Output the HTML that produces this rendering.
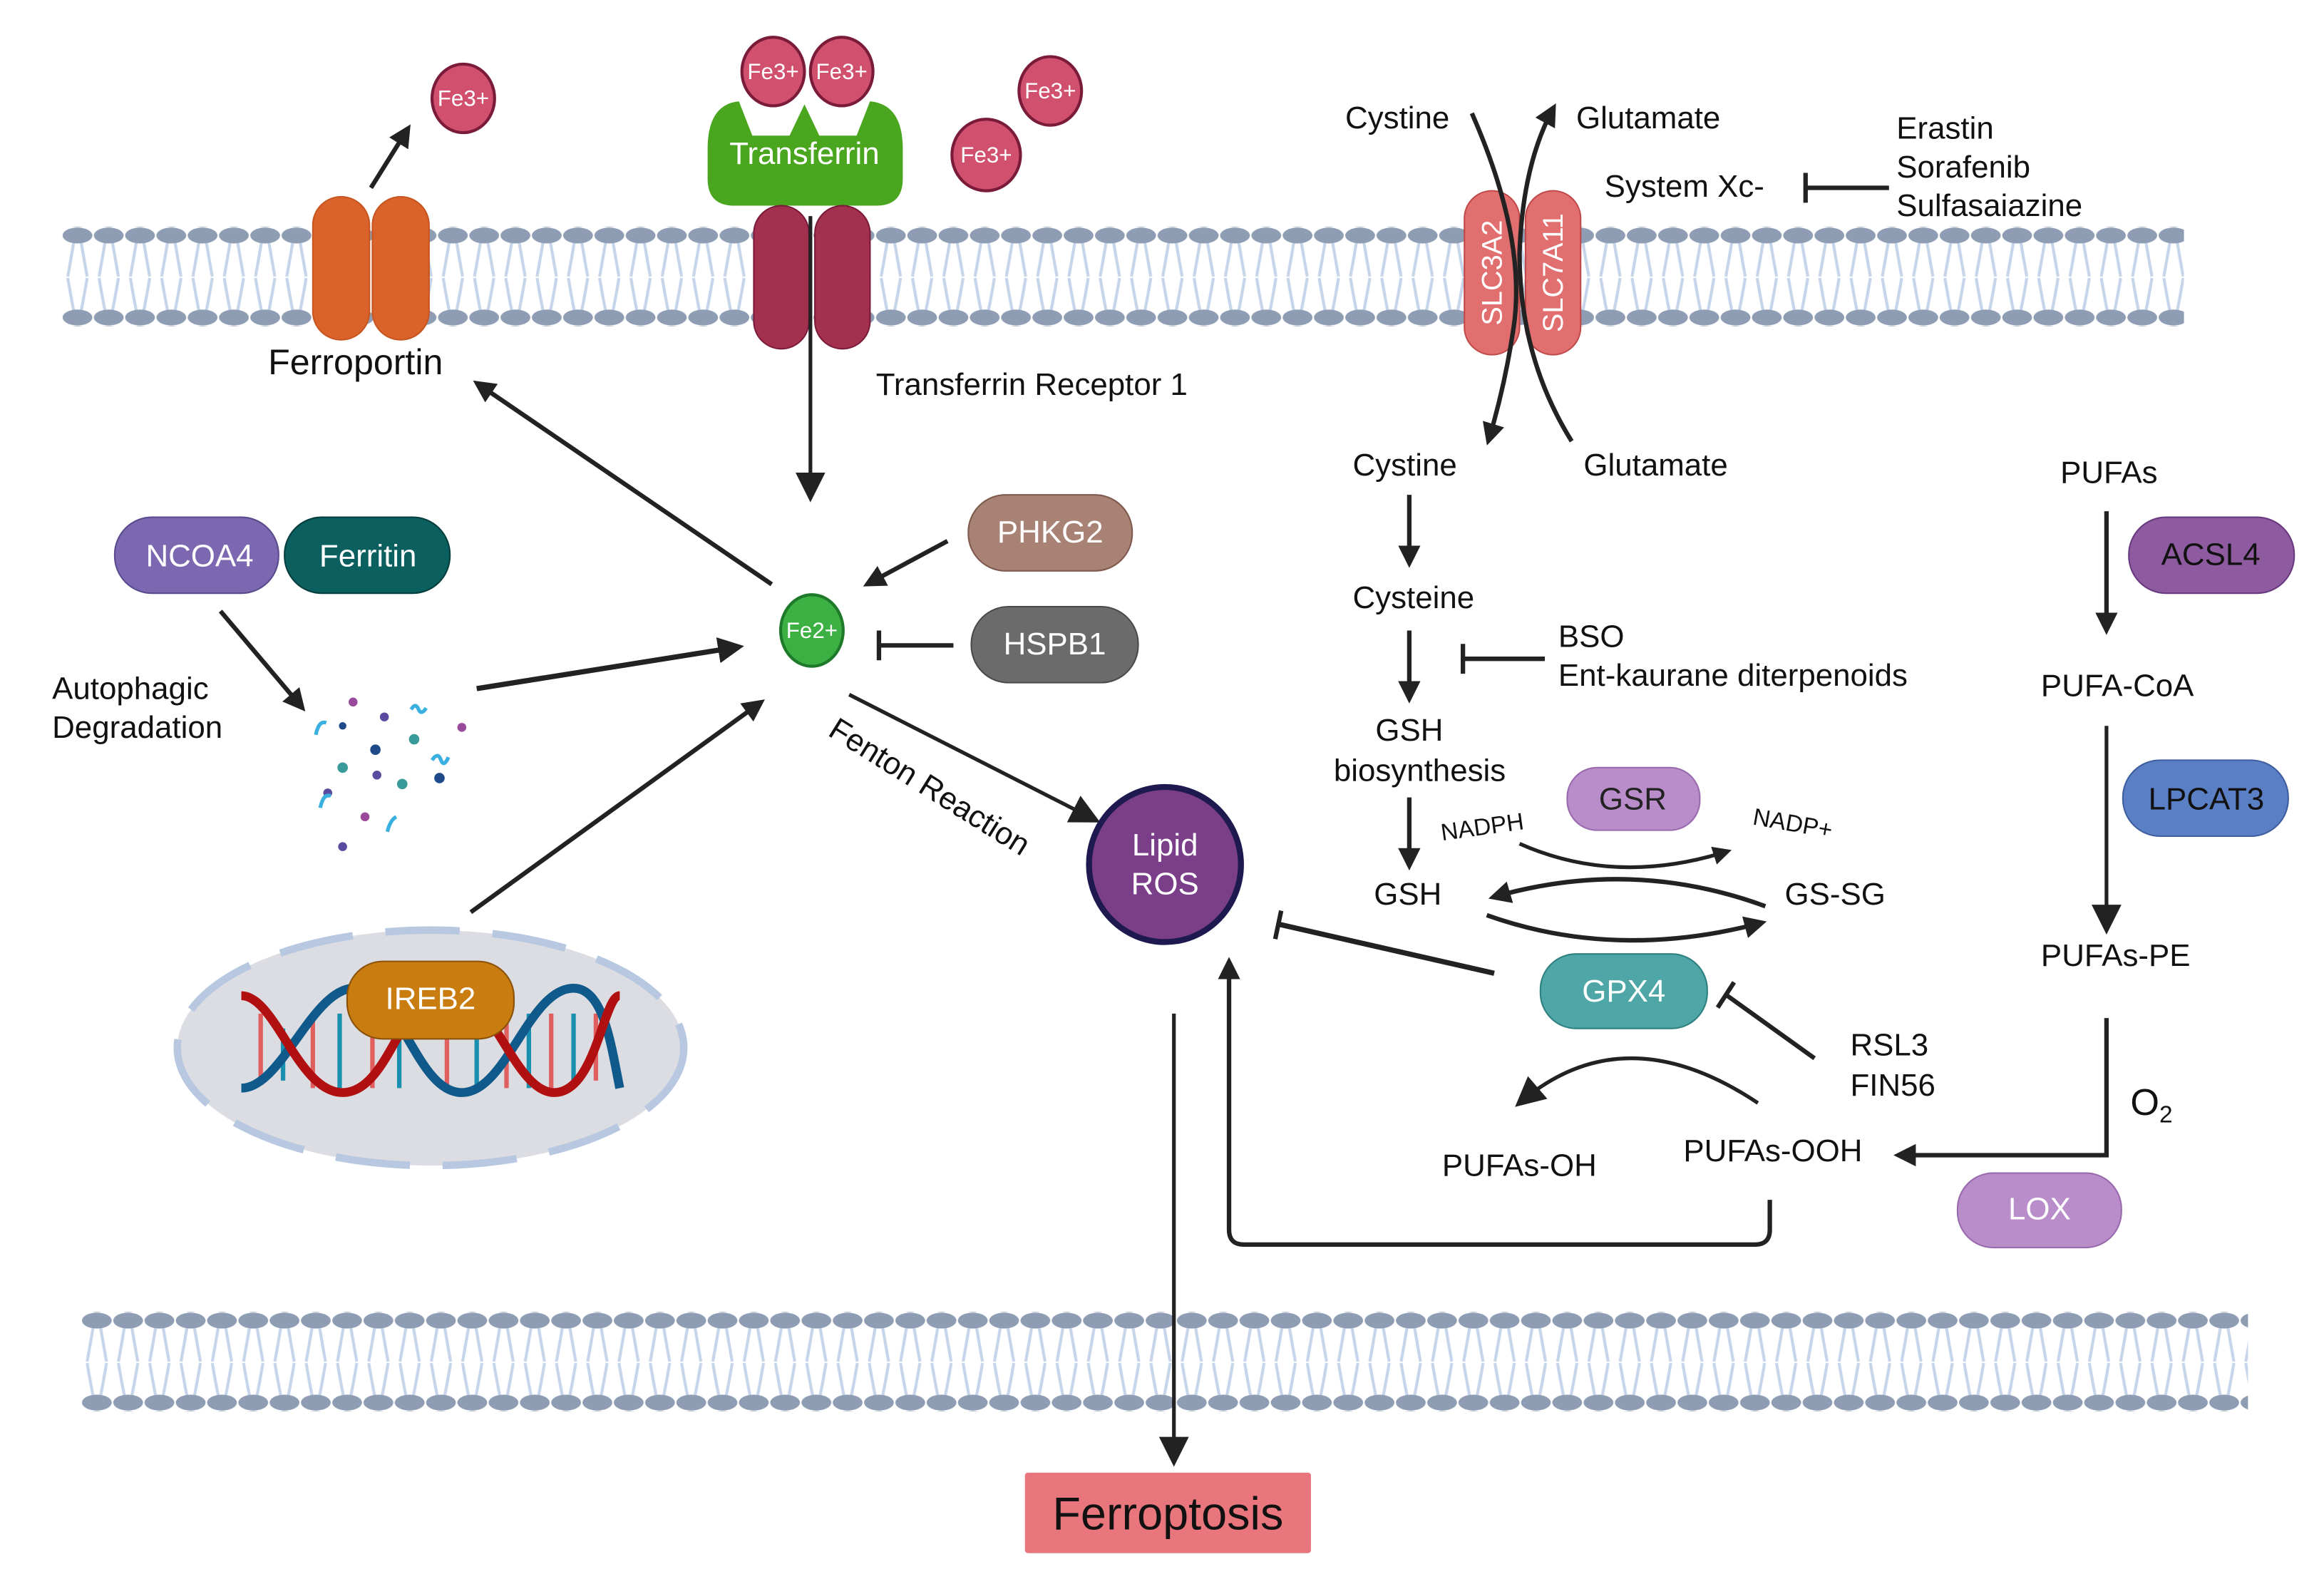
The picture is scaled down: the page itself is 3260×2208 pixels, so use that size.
<!DOCTYPE html>
<html><head><meta charset="utf-8"><style>
html,body{margin:0;padding:0;background:#fff;}
svg{display:block;}
text{font-family:"Liberation Sans",sans-serif;}
</style></head><body>
<svg width="3260" height="2208" viewBox="0 0 1560 1056" preserveAspectRatio="none" xmlns="http://www.w3.org/2000/svg">
<defs>
<pattern id="lipA" patternUnits="userSpaceOnUse" x="41.5" y="152.5" width="21" height="66">
 <g stroke="#c6d5ea" stroke-width="2" fill="none">
  <path d="M8 10 Q6 22 4 33"/><path d="M13 10 Q15 22 17 33"/>
  <path d="M4 34 Q6 46 8 56"/><path d="M17 34 Q15 46 13 56"/>
 </g>
 <ellipse cx="10.5" cy="5.5" rx="10" ry="5.3" fill="#8e9db3"/>
 <ellipse cx="10.5" cy="60.5" rx="10" ry="5.3" fill="#8e9db3"/>
</pattern>
<pattern id="lipB" patternUnits="userSpaceOnUse" x="54.5" y="880.5" width="21" height="66">
 <g stroke="#c6d5ea" stroke-width="2" fill="none">
  <path d="M8 10 Q6 22 4 33"/><path d="M13 10 Q15 22 17 33"/>
  <path d="M4 34 Q6 46 8 56"/><path d="M17 34 Q15 46 13 56"/>
 </g>
 <ellipse cx="10.5" cy="5.5" rx="10" ry="5.3" fill="#8e9db3"/>
 <ellipse cx="10.5" cy="60.5" rx="10" ry="5.3" fill="#8e9db3"/>
</pattern>
<marker id="ah" viewBox="0 0 10 10" refX="8" refY="5" markerWidth="5" markerHeight="5" orient="auto" markerUnits="strokeWidth">
 <path d="M0 0 L10 5 L0 10 z" fill="#222"/>
</marker>
<marker id="ahs" viewBox="0 0 10 10" refX="8" refY="5" markerWidth="8" markerHeight="8" orient="auto" markerUnits="strokeWidth">
 <path d="M0 0 L10 5 L0 10 z" fill="#222"/>
</marker>
</defs>

<rect x="42" y="152" width="1424" height="67" fill="url(#lipA)"/>
<rect x="55" y="880" width="1454" height="67" fill="url(#lipB)"/>

<rect x="210" y="132" width="38" height="96" rx="19" fill="#d9632a" stroke="#c85520"/>
<rect x="250" y="132" width="38" height="96" rx="19" fill="#d9632a" stroke="#c85520"/>
<line x1="249" y1="126" x2="274" y2="86" stroke="#222" stroke-width="3" marker-end="url(#ah)"/>
<text x="180" y="251" font-size="24" fill="#111">Ferroportin</text>

<g fill="#d0506e" stroke="#7a1b3a" stroke-width="2">
<ellipse cx="311" cy="66" rx="21" ry="23"/>
<ellipse cx="519" cy="48" rx="21" ry="23"/>
<ellipse cx="565" cy="48" rx="21" ry="23"/>
<ellipse cx="705" cy="61" rx="21" ry="23"/>
<ellipse cx="662" cy="104" rx="23" ry="24"/>
</g>
<g fill="#fff" font-size="15" text-anchor="middle">
<text x="311" y="71">Fe3+</text><text x="519" y="53">Fe3+</text><text x="565" y="53">Fe3+</text>
<text x="705" y="66">Fe3+</text><text x="662" y="109">Fe3+</text>
</g>

<path d="M496 68 L505 91 L530 91 L540 70 L550 91 L575 91 L584 68 Q606 70 606 100 L606 120 Q606 138 588 138 L493 138 Q475 138 475 120 L475 100 Q475 70 496 68 z" fill="#4aa61e"/>
<text x="540" y="110" font-size="21" fill="#fff" text-anchor="middle">Transferrin</text>
<rect x="506" y="138" width="37" height="96" rx="18.5" fill="#a3304f" stroke="#7a1b3a"/>
<rect x="547" y="138" width="37" height="96" rx="18.5" fill="#a3304f" stroke="#7a1b3a"/>
<line x1="544" y1="145" x2="544" y2="333" stroke="#222" stroke-width="2.5" marker-end="url(#ahs)"/>
<text x="588" y="265" font-size="21" fill="#111">Transferrin Receptor 1</text>

<line x1="518" y1="392" x2="320" y2="257" stroke="#222" stroke-width="3" marker-end="url(#ah)"/>
<rect x="77" y="347" width="110" height="51" rx="25" fill="#7b68b0" stroke="#5a4a8e"/>
<rect x="191" y="347" width="111" height="51" rx="25" fill="#0b5f5f" stroke="#063e3e"/>
<text x="134" y="380" font-size="21" fill="#fff" text-anchor="middle">NCOA4</text>
<text x="247" y="380" font-size="21" fill="#fff" text-anchor="middle">Ferritin</text>
<line x1="148" y1="410" x2="203" y2="475" stroke="#222" stroke-width="3" marker-end="url(#ah)"/>
<text x="35" y="469" font-size="21" fill="#111">Autophagic</text>
<text x="35" y="495" font-size="21" fill="#111">Degradation</text>
<g>
<circle cx="237" cy="471" r="3" fill="#9a4a9a"/><circle cx="258" cy="481" r="3" fill="#5a4aa0"/>
<circle cx="230" cy="487" r="2.5" fill="#1e4a8a"/><circle cx="310" cy="488" r="3" fill="#9a4a9a"/>
<circle cx="252" cy="503" r="3.5" fill="#1e4a8a"/><circle cx="278" cy="496" r="3.5" fill="#3a9a9a"/>
<circle cx="230" cy="515" r="3.5" fill="#3a9a9a"/><circle cx="253" cy="520" r="3" fill="#5a4aa0"/>
<circle cx="270" cy="526" r="3.5" fill="#3a9a9a"/><circle cx="295" cy="522" r="3.5" fill="#1e4a8a"/>
<circle cx="220" cy="532" r="3" fill="#5a4aa0"/><circle cx="245" cy="548" r="3" fill="#9a4a9a"/>
<circle cx="230" cy="568" r="3" fill="#5a4aa0"/>
<g stroke="#3ab0e0" stroke-width="2.5" fill="none">
<path d="M276 476 q3 -5 5 0 q2 4 5 -1"/><path d="M212 493 q2 -10 7 -8"/>
<path d="M290 510 q4 -6 6 0 q2 5 5 -2"/><path d="M215 542 q2 -10 7 -8"/><path d="M260 558 q2 -8 6 -10"/>
</g></g>
<line x1="320" y1="462" x2="496" y2="434" stroke="#222" stroke-width="3.5" marker-end="url(#ah)"/>
<line x1="316" y1="612" x2="511" y2="471" stroke="#222" stroke-width="3" marker-end="url(#ah)"/>

<ellipse cx="545" cy="423" rx="21" ry="24" fill="#3cb043" stroke="#1e7a2a" stroke-width="2"/>
<text x="545" y="428" font-size="15" fill="#fff" text-anchor="middle">Fe2+</text>

<rect x="650" y="332" width="110" height="51" rx="25" fill="#a88274" stroke="#7e5a4e"/>
<text x="705" y="364" font-size="21" fill="#fff" text-anchor="middle">PHKG2</text>
<line x1="636" y1="363" x2="582" y2="392" stroke="#222" stroke-width="3" marker-end="url(#ah)"/>
<rect x="652" y="407" width="112" height="51" rx="25" fill="#6b6b6b" stroke="#4a4a4a"/>
<text x="708" y="439" font-size="21" fill="#fff" text-anchor="middle">HSPB1</text>
<line x1="640" y1="433" x2="590" y2="433" stroke="#222" stroke-width="3"/>
<line x1="590" y1="423" x2="590" y2="443" stroke="#222" stroke-width="3"/>

<line x1="570" y1="466" x2="735" y2="550" stroke="#222" stroke-width="2.5" marker-end="url(#ahs)"/>
<text x="555" y="493" font-size="21" fill="#111" transform="rotate(32 555 493)">Fenton Reaction</text>

<ellipse cx="782" cy="580" rx="51" ry="52" fill="#7b3f8a" stroke="#1e1a50" stroke-width="4"/>
<text x="782" y="574" font-size="21" fill="#fff" text-anchor="middle">Lipid</text>
<text x="782" y="600" font-size="21" fill="#fff" text-anchor="middle">ROS</text>

<ellipse cx="289" cy="703" rx="170" ry="79" fill="#dcdde2" stroke="#b8c8e0" stroke-width="5" stroke-dasharray="50 22"/>
<g fill="none" stroke-width="6">
<g stroke-width="3">
<line x1="175" y1="680" x2="175" y2="728" stroke="#e06060"/><line x1="190" y1="690" x2="190" y2="725" stroke="#1a90b0"/>
<line x1="210" y1="680" x2="210" y2="730" stroke="#e06060"/><line x1="228" y1="680" x2="228" y2="730" stroke="#1a90b0"/>
<line x1="250" y1="680" x2="250" y2="730" stroke="#e06060"/><line x1="268" y1="690" x2="268" y2="730" stroke="#1a90b0"/>
<line x1="300" y1="690" x2="300" y2="730" stroke="#e06060"/><line x1="320" y1="690" x2="320" y2="730" stroke="#1a90b0"/>
<line x1="340" y1="680" x2="340" y2="730" stroke="#e06060"/>
<line x1="355" y1="680" x2="355" y2="730" stroke="#1a90b0"/><line x1="370" y1="680" x2="370" y2="730" stroke="#e06060"/>
<line x1="385" y1="680" x2="385" y2="730" stroke="#1a90b0"/><line x1="400" y1="680" x2="400" y2="725" stroke="#e06060"/>
</g>
<path d="M162 730 C190 730 210 660 240 663 C270 666 280 733 310 733 C340 733 355 663 385 663 C405 663 410 700 416 730" stroke="#0f5a8a"/>
<path d="M162 668 C185 668 200 733 230 733 C262 733 270 663 300 663 C330 663 345 733 372 733 C400 733 405 668 416 668" stroke="#b01010"/>
</g>
<rect x="233" y="645" width="112" height="52" rx="24" fill="#c97c10" stroke="#8a5208"/>
<text x="289" y="677" font-size="21" fill="#fff" text-anchor="middle">IREB2</text>

<line x1="788" y1="680" x2="788" y2="980" stroke="#222" stroke-width="2.5" marker-end="url(#ahs)"/>
<rect x="688" y="988" width="192" height="54" rx="2" fill="#e8767c"/>
<text x="784" y="1026" font-size="31" fill="#111" text-anchor="middle">Ferroptosis</text>

<rect x="983" y="128" width="37" height="110" rx="18.5" fill="#e26f6f" stroke="#c04848"/>
<rect x="1024" y="128" width="37" height="110" rx="18.5" fill="#e26f6f" stroke="#c04848"/>
<text x="0" y="0" font-size="19" fill="#fff" text-anchor="middle" transform="translate(1008 183) rotate(-90)">SLC3A2</text>
<text x="0" y="0" font-size="19" fill="#fff" text-anchor="middle" transform="translate(1049 183) rotate(-90)">SLC7A11</text>
<path d="M988 76 Q1025 160 1016 220 Q1010 260 999 296" fill="none" stroke="#222" stroke-width="3" marker-end="url(#ah)"/>
<path d="M1055 296 Q1020 240 1020 170 Q1022 110 1043 72" fill="none" stroke="#222" stroke-width="3" marker-end="url(#ah)"/>
<text x="903" y="86" font-size="21" fill="#111">Cystine</text>
<text x="1058" y="86" font-size="21" fill="#111">Glutamate</text>
<text x="1077" y="132" font-size="21" fill="#111">System Xc-</text>
<line x1="1212" y1="126" x2="1268" y2="126" stroke="#222" stroke-width="3"/>
<line x1="1212" y1="116" x2="1212" y2="136" stroke="#222" stroke-width="3"/>
<text x="1273" y="93" font-size="21" fill="#111">Erastin</text>
<text x="1273" y="119" font-size="21" fill="#111">Sorafenib</text>
<text x="1273" y="145" font-size="21" fill="#111">Sulfasaiazine</text>
<text x="908" y="319" font-size="21" fill="#111">Cystine</text>
<text x="1063" y="319" font-size="21" fill="#111">Glutamate</text>

<line x1="946" y1="332" x2="946" y2="378" stroke="#222" stroke-width="3" marker-end="url(#ah)"/>
<text x="908" y="408" font-size="21" fill="#111">Cysteine</text>
<line x1="946" y1="423" x2="946" y2="469" stroke="#222" stroke-width="3" marker-end="url(#ah)"/>
<line x1="982" y1="442" x2="1037" y2="442" stroke="#222" stroke-width="3"/>
<line x1="982" y1="432" x2="982" y2="452" stroke="#222" stroke-width="3"/>
<text x="1046" y="434" font-size="21" fill="#111">BSO</text>
<text x="1046" y="460" font-size="21" fill="#111">Ent-kaurane diterpenoids</text>
<text x="946" y="497" font-size="21" fill="#111" text-anchor="middle">GSH</text>
<text x="953" y="524" font-size="21" fill="#111" text-anchor="middle">biosynthesis</text>
<line x1="946" y1="535" x2="946" y2="581" stroke="#222" stroke-width="3" marker-end="url(#ah)"/>
<text x="945" y="607" font-size="21" fill="#111" text-anchor="middle">GSH</text>

<rect x="1052" y="515" width="89" height="42" rx="20" fill="#b98dc9" stroke="#9a6aae"/>
<text x="1096" y="543" font-size="21" fill="#222" text-anchor="middle">GSR</text>
<text x="968" y="564" font-size="16" fill="#111" transform="rotate(-8 968 564)">NADPH</text>
<text x="1176" y="553" font-size="16" fill="#111" transform="rotate(10 1176 553)">NADP+</text>
<path d="M1020 566 Q1085 595 1160 571" fill="none" stroke="#222" stroke-width="2.5" marker-end="url(#ah)"/>
<path d="M1185 608 Q1095 575 1002 602" fill="none" stroke="#222" stroke-width="3" marker-end="url(#ah)"/>
<path d="M998 614 Q1085 645 1183 619" fill="none" stroke="#222" stroke-width="3" marker-end="url(#ah)"/>
<text x="1198" y="607" font-size="21" fill="#111">GS-SG</text>

<rect x="1034" y="640" width="112" height="50" rx="24" fill="#4ea6a6" stroke="#2e8080"/>
<text x="1090" y="672" font-size="21" fill="#fff" text-anchor="middle">GPX4</text>
<line x1="1003" y1="653" x2="858" y2="620" stroke="#222" stroke-width="3.5"/>
<line x1="860" y1="611" x2="856" y2="630" stroke="#222" stroke-width="3"/>
<line x1="1218" y1="710" x2="1158" y2="667" stroke="#222" stroke-width="3"/>
<line x1="1164" y1="659" x2="1153" y2="676" stroke="#222" stroke-width="3"/>
<text x="1242" y="708" font-size="21" fill="#111">RSL3</text>
<text x="1242" y="735" font-size="21" fill="#111">FIN56</text>
<path d="M1180 740 Q1090 680 1020 740" fill="none" stroke="#222" stroke-width="2.5" marker-end="url(#ahs)"/>
<text x="968" y="789" font-size="21" fill="#111">PUFAs-OH</text>
<text x="1130" y="779" font-size="21" fill="#111">PUFAs-OOH</text>
<path d="M1188 805 L1188 825 Q1188 835 1178 835 L835 835 Q825 835 825 825 L825 645" fill="none" stroke="#222" stroke-width="3" marker-end="url(#ah)"/>

<text x="1383" y="324" font-size="21" fill="#111">PUFAs</text>
<line x1="1414" y1="343" x2="1414" y2="423" stroke="#222" stroke-width="3" marker-end="url(#ah)"/>
<rect x="1429" y="347" width="111" height="51" rx="25" fill="#8e5aa0" stroke="#6a3a80"/>
<text x="1484" y="379" font-size="21" fill="#111" text-anchor="middle">ACSL4</text>
<text x="1370" y="467" font-size="21" fill="#111">PUFA-CoA</text>
<line x1="1414" y1="487" x2="1414" y2="623" stroke="#222" stroke-width="2.5" marker-end="url(#ahs)"/>
<rect x="1425" y="510" width="111" height="51" rx="25" fill="#5b7fc4" stroke="#3e5ea0"/>
<text x="1481" y="543" font-size="21" fill="#111" text-anchor="middle">LPCAT3</text>
<text x="1370" y="648" font-size="21" fill="#111">PUFAs-PE</text>
<path d="M1414 683 L1414 775 L1274 775" fill="none" stroke="#222" stroke-width="3" marker-end="url(#ah)"/>
<text x="1430" y="748" font-size="25" fill="#111">O<tspan font-size="16" dy="5">2</tspan></text>
<rect x="1314" y="787" width="110" height="50" rx="24" fill="#b98dc9" stroke="#9a6aae"/>
<text x="1369" y="818" font-size="21" fill="#fff" text-anchor="middle">LOX</text>
</svg>
</body></html>
